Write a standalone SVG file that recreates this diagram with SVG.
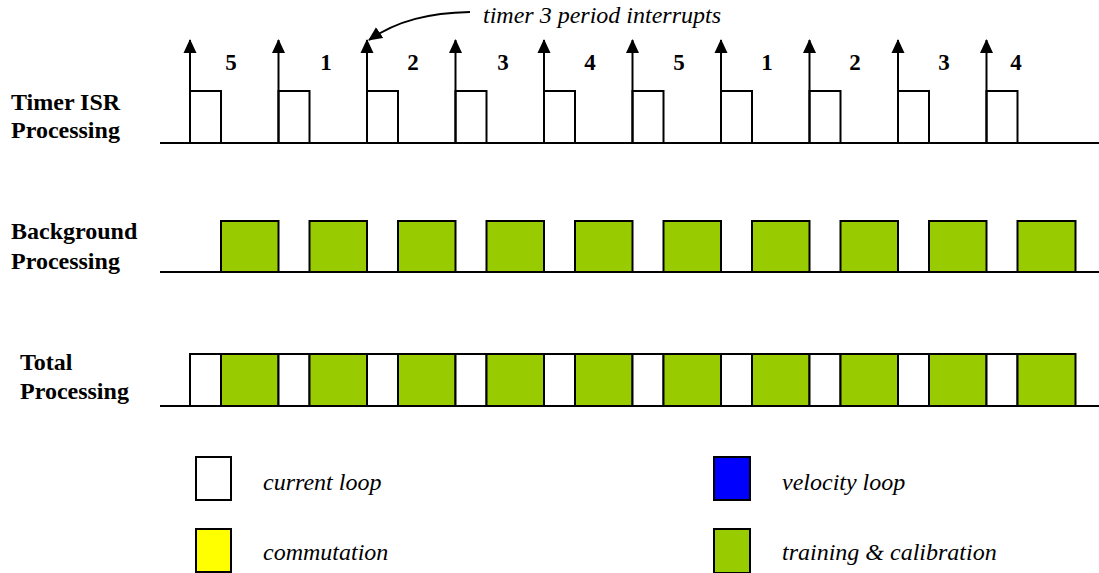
<svg xmlns="http://www.w3.org/2000/svg" width="1099" height="573" viewBox="0 0 1099 573">
  <style>
    .lbl { font-family: "Liberation Serif", "Times New Roman", serif; font-size: 24px; font-weight: bold; fill: #000; }
    .num { font-family: "Liberation Serif", "Times New Roman", serif; font-size: 23px; font-weight: bold; fill: #000; text-anchor: middle; }
    .ital { font-family: "Liberation Serif", "Times New Roman", serif; font-size: 24px; font-style: italic; fill: #000; }
    .axis { stroke: #000; stroke-width: 2; fill: none; }
    .cur { fill: #fff; stroke: #000; stroke-width: 2; }
    .trn { fill: #99cc00; stroke: #000; stroke-width: 2; }
    .com { fill: #ffff00; stroke: #000; stroke-width: 2; }
    .vel { fill: #0000ff; stroke: #000; stroke-width: 2; }
    .irq { stroke: #000; stroke-width: 2; fill: none; marker-end: url(#head); }
  </style>
  <defs>
    <marker id="head" viewBox="0 0 14 14" refX="13" refY="7" markerWidth="14" markerHeight="14" markerUnits="userSpaceOnUse" orient="auto">
      <path d="M0,0.5 L14,7 L0,13.5 Z" fill="#000"/>
    </marker>
  </defs>
  <rect width="1099" height="573" fill="#fff"/>

  <!-- row labels -->
  <g id="label-timer">
    <text class="lbl" x="11" y="110">Timer ISR</text>
    <text class="lbl" x="11" y="138">Processing</text>
  </g>
  <g id="label-background">
    <text class="lbl" x="11" y="239">Background</text>
    <text class="lbl" x="11" y="269">Processing</text>
  </g>
  <g id="label-total">
    <text class="lbl" x="20" y="370">Total</text>
    <text class="lbl" x="20" y="399">Processing</text>
  </g>

  <!-- timer ISR row -->
  <g id="timer-row">
    <line class="axis" x1="160" y1="143" x2="1099" y2="143"/>
    <rect class="cur" x="190" y="91" width="31" height="52"/>
    <rect class="cur" x="278.5" y="91" width="31" height="52"/>
    <rect class="cur" x="367" y="91" width="31" height="52"/>
    <rect class="cur" x="455.5" y="91" width="31" height="52"/>
    <rect class="cur" x="544" y="91" width="31" height="52"/>
    <rect class="cur" x="632.5" y="91" width="31" height="52"/>
    <rect class="cur" x="721" y="91" width="31" height="52"/>
    <rect class="cur" x="809.5" y="91" width="31" height="52"/>
    <rect class="cur" x="898" y="91" width="31" height="52"/>
    <rect class="cur" x="986.5" y="91" width="31" height="52"/>
  </g>

  <!-- interrupt slot numbers -->
  <g id="slot-numbers">
    <text class="num" x="231" y="70">5</text>
    <text class="num" x="326" y="70">1</text>
    <text class="num" x="413" y="70">2</text>
    <text class="num" x="503" y="70">3</text>
    <text class="num" x="590" y="70">4</text>
    <text class="num" x="679" y="70">5</text>
    <text class="num" x="767" y="70">1</text>
    <text class="num" x="855" y="70">2</text>
    <text class="num" x="944" y="70">3</text>
    <text class="num" x="1016" y="70">4</text>
  </g>

  <!-- background row -->
  <g id="background-row">
    <line class="axis" x1="160" y1="272" x2="1099" y2="272"/>
    <rect class="trn" x="221" y="221" width="57.5" height="51"/>
    <rect class="trn" x="309.5" y="221" width="57.5" height="51"/>
    <rect class="trn" x="398" y="221" width="57.5" height="51"/>
    <rect class="trn" x="486.5" y="221" width="57.5" height="51"/>
    <rect class="trn" x="575" y="221" width="57.5" height="51"/>
    <rect class="trn" x="663.5" y="221" width="57.5" height="51"/>
    <rect class="trn" x="752" y="221" width="57.5" height="51"/>
    <rect class="trn" x="840.5" y="221" width="57.5" height="51"/>
    <rect class="trn" x="929" y="221" width="57.5" height="51"/>
    <rect class="trn" x="1017.5" y="221" width="58" height="51"/>
  </g>

  <!-- total row -->
  <g id="total-row">
    <line class="axis" x1="160" y1="406" x2="190" y2="406"/>
    <line class="axis" x1="1075.5" y1="406" x2="1099" y2="406"/>
    <rect class="cur" x="190" y="354" width="31" height="52"/>
    <rect class="trn" x="221" y="354" width="57.5" height="52"/>
    <rect class="cur" x="278.5" y="354" width="31" height="52"/>
    <rect class="trn" x="309.5" y="354" width="57.5" height="52"/>
    <rect class="cur" x="367" y="354" width="31" height="52"/>
    <rect class="trn" x="398" y="354" width="57.5" height="52"/>
    <rect class="cur" x="455.5" y="354" width="31" height="52"/>
    <rect class="trn" x="486.5" y="354" width="57.5" height="52"/>
    <rect class="cur" x="544" y="354" width="31" height="52"/>
    <rect class="trn" x="575" y="354" width="57.5" height="52"/>
    <rect class="cur" x="632.5" y="354" width="31" height="52"/>
    <rect class="trn" x="663.5" y="354" width="57.5" height="52"/>
    <rect class="cur" x="721" y="354" width="31" height="52"/>
    <rect class="trn" x="752" y="354" width="57.5" height="52"/>
    <rect class="cur" x="809.5" y="354" width="31" height="52"/>
    <rect class="trn" x="840.5" y="354" width="57.5" height="52"/>
    <rect class="cur" x="898" y="354" width="31" height="52"/>
    <rect class="trn" x="929" y="354" width="57.5" height="52"/>
    <rect class="cur" x="986.5" y="354" width="31" height="52"/>
    <rect class="trn" x="1017.5" y="354" width="58" height="52"/>
  </g>

  <!-- interrupt arrows and callout -->
  <g id="connectors">
    <line class="irq" x1="190" y1="143" x2="190" y2="40"/>
    <line class="irq" x1="278.5" y1="143" x2="278.5" y2="40"/>
    <line class="irq" x1="367" y1="143" x2="367" y2="40"/>
    <line class="irq" x1="455.5" y1="143" x2="455.5" y2="40"/>
    <line class="irq" x1="544" y1="143" x2="544" y2="40"/>
    <line class="irq" x1="632.5" y1="143" x2="632.5" y2="40"/>
    <line class="irq" x1="721" y1="143" x2="721" y2="40"/>
    <line class="irq" x1="809.5" y1="143" x2="809.5" y2="40"/>
    <line class="irq" x1="898" y1="143" x2="898" y2="40"/>
    <line class="irq" x1="986.5" y1="143" x2="986.5" y2="40"/>
    <path class="irq" d="M470,12 C430,13 398,20 369,40"/>
  </g>
  <g id="callout">
    <text class="ital" x="483" y="23">timer 3 period interrupts</text>
  </g>

  <!-- legend -->
  <g id="legend-current">
    <rect class="cur" x="196" y="457" width="35" height="43"/>
    <text class="ital" x="263" y="490">current loop</text>
  </g>
  <g id="legend-commutation">
    <rect class="com" x="196" y="529" width="35" height="43"/>
    <text class="ital" x="263" y="560">commutation</text>
  </g>
  <g id="legend-velocity">
    <rect class="vel" x="714" y="457" width="36" height="43"/>
    <text class="ital" x="782" y="490">velocity loop</text>
  </g>
  <g id="legend-training">
    <rect class="trn" x="714" y="529" width="36" height="44"/>
    <text class="ital" x="782" y="560">training &amp; calibration</text>
  </g>
</svg>
